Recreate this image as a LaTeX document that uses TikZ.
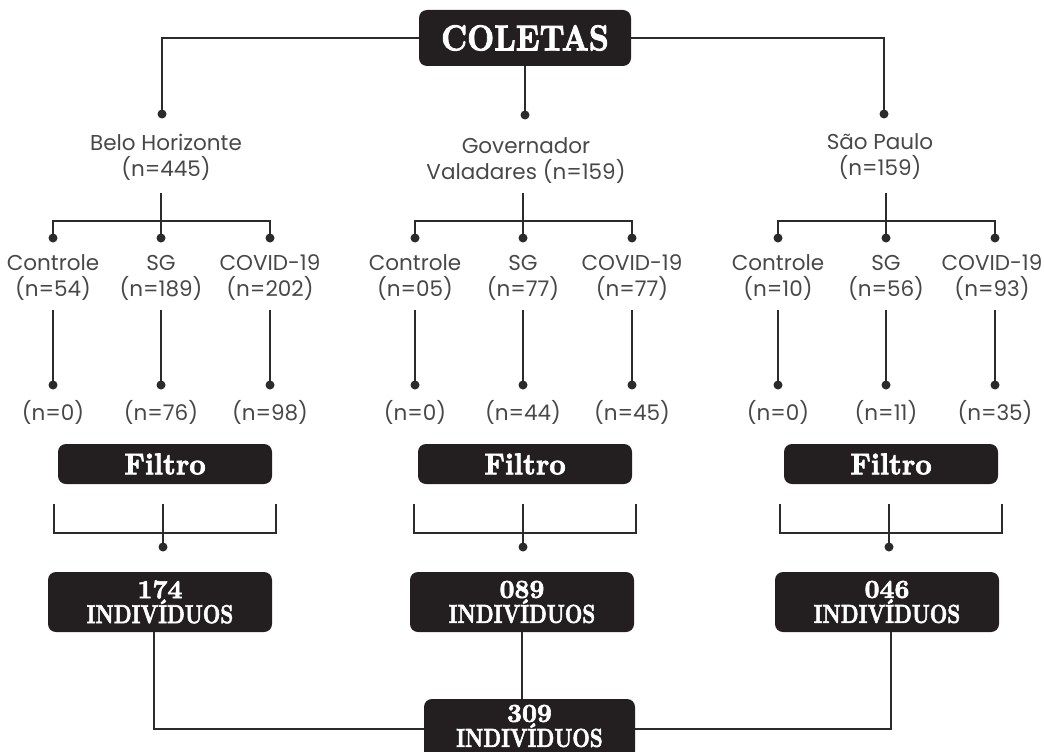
\documentclass[tikz,border=0pt]{standalone}
\usepackage{fontspec}
\usepackage{graphicx}
\newfontfamily\sansf{Poppins}
\newfontfamily\boxf{lmroman10-bold.otf}[FakeBold=2.5]
\definecolor{ink}{HTML}{2B2B2B}
\definecolor{boxfill}{HTML}{231F20}
\definecolor{txt}{HTML}{484848}
\begin{document}
\begin{tikzpicture}[x=1pt,y=-1pt,
  conn/.style={draw=ink,line width=2.4pt},
  blk/.style={fill=boxfill,rounded corners=8pt,text=white,inner sep=0pt,align=center},
  bignum/.style={font=\boxf\fontsize{26}{25}\selectfont},
  lbl/.style={font=\sansf\fontsize{21.5}{26}\selectfont,text=txt,align=center,inner sep=0pt},
  dotn/.style={circle,fill=ink,inner sep=0pt,minimum size=9pt}
]
\clip (0,0) rectangle (1044,752);
\path[use as bounding box] (0,0) rectangle (1044,752);

% top box
\node[blk,font=\boxf\fontsize{36}{36}\selectfont,minimum width=212pt,minimum height=56pt] (col) at (525,38)
  {\scalebox{0.87}[1]{COLETAS}};
\node[dotn] (tBH) at (162,114) {};
\node[dotn] (tGV) at (525,115) {};
\node[dotn] (tSP) at (884,114) {};
\draw[conn] (col.west) -| (tBH.center);
\draw[conn] (col.south) -- (tGV.center);
\draw[conn] (col.east) -| (tSP.center);

% city labels
\node[lbl] (cBH) at (166,157) {Belo Horizonte\\(n=445)};
\node[lbl] (cGV) at (526,161) {Governador\\Valadares (n=159)};
\node[lbl] (cSP) at (880,157) {São Paulo\\(n=159)};

% groups
\foreach \g/\c/\na/\nb/\nc/\ma/\mb/\mc/\cx in
  {BH/161/54/189/202/0/76/98/270, GV/523/05/77/77/0/44/45/632, SP/886/10/56/93/0/11/35/992}{
  \coordinate (\g-top) at (\c,193);
  \coordinate (\g-bar) at (\c,221);
  \node[dotn] (\g-d1) at (\c-108,238) {};
  \node[dotn] (\g-d2) at (\c,238) {};
  \node[dotn] (\g-d3) at (\c+109,238) {};
  \draw[conn] (\g-top) -- (\g-bar);
  \draw[conn] (\g-d1.center) |- (\g-bar) -| (\g-d3.center);
  \draw[conn] (\g-bar) -- (\g-d2.center);
  \node[lbl] (\g-l1) at (\c-108,278) {Controle\\(n=\na)};
  \node[lbl] (\g-l2) at (\c,278) {SG\\(n=\nb)};
  \node[lbl] (\g-l3) at (\cx,278) {COVID-19\\(n=\nc)};
  \coordinate (\g-v1) at (\c-108,310);
  \coordinate (\g-v2) at (\c,310);
  \coordinate (\g-v3) at (\c+109,310);
  \node[dotn] (\g-e1) at (\c-108,385) {};
  \node[dotn] (\g-e2) at (\c,385) {};
  \node[dotn] (\g-e3) at (\c+109,385) {};
  \draw[conn] (\g-v1) -- (\g-e1.center);
  \draw[conn] (\g-v2) -- (\g-e2.center);
  \draw[conn] (\g-v3) -- (\g-e3.center);
  \node[lbl] (\g-m1) at (\c-108,412) {(n=\ma)};
  \node[lbl] (\g-m2) at (\c,412) {(n=\mb)};
  \node[lbl] (\g-m3) at (\c+109,412) {(n=\mc)};
}

\foreach \g/\fc/\rc/\num in {BH/165/160/174, GV/525/522/089, SP/891/887/046}{
  \node[blk,font=\boxf\fontsize{30}{30}\selectfont,minimum width=214pt,minimum height=40pt] (\g-fil) at (\fc,464)
    {\scalebox{0.95}[1]{Filtro}};
  \coordinate (\g-bl) at (\fc-111,504);
  \coordinate (\g-br) at (\fc+111,504);
  \coordinate (\g-bm) at (\fc-2,504);
  \coordinate (\g-bb) at (\fc-2,533);
  \node[dotn] (\g-bd) at (\fc-2,547) {};
  \draw[conn] (\g-bl) |- (\g-bb) -| (\g-br);
  \draw[conn] (\g-bm) -- (\g-bd.center);
  \node[blk,bignum,minimum width=224pt,minimum height=60pt] (\g-res) at (\rc,602)
    {\num\\\scalebox{0.78}[1]{INDIVÍDUOS}};
}

\node[blk,minimum width=211pt,minimum height=60pt] (fin) at (529.5,729) {};
\node[bignum,text=white,align=center,inner sep=0pt] (finT) at (529.5,726)
  {309\\\scalebox{0.78}[1]{INDIVÍDUOS}};
\draw[conn] ([xshift=-6pt]BH-res.south) |- (fin.west);
\draw[conn] (GV-res.south) -- (GV-res.south |- fin.north);
\draw[conn] ([xshift=4pt]SP-res.south) |- (fin.east);
\end{tikzpicture}
\end{document}
